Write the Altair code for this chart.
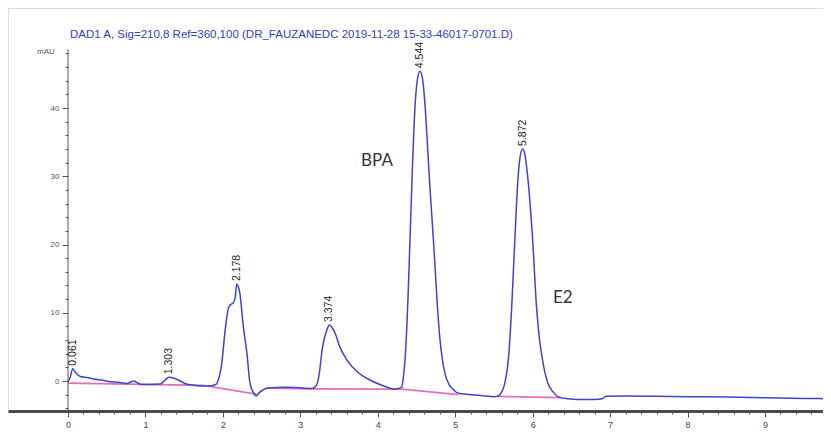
import altair as alt
import pandas as pd

# ---------------- data ----------------
trace_t = [0.00, 0.03, 0.061, 0.10, 0.16, 0.25, 0.33, 0.45, 0.55, 0.65, 0.76, 0.80, 0.85, 0.90, 0.95,
           1.05, 1.19, 1.25, 1.303, 1.37, 1.45, 1.53, 1.62, 1.75, 1.85, 1.91, 1.95, 1.98, 2.03, 2.07,
           2.10, 2.13, 2.16, 2.178, 2.20, 2.22, 2.26, 2.31, 2.35, 2.39, 2.43, 2.47, 2.57, 2.70, 2.82,
           3.00, 3.15, 3.21, 3.25, 3.28, 3.34, 3.374, 3.40, 3.45, 3.51, 3.60, 3.73, 3.90, 4.07, 4.22,
           4.31, 4.33, 4.36, 4.39, 4.42, 4.45, 4.48, 4.51, 4.544, 4.575, 4.61, 4.64, 4.67, 4.72, 4.77,
           4.80, 4.83, 4.87, 4.92, 4.98, 5.04, 5.20, 5.35, 5.50, 5.56, 5.60, 5.64, 5.69, 5.73, 5.77,
           5.81, 5.84, 5.872, 5.90, 5.94, 6.00, 6.05, 6.09, 6.12, 6.16, 6.20, 6.27, 6.35, 6.45, 6.60,
           6.80, 6.90, 6.95, 7.20, 7.60, 8.00, 8.50, 9.00, 9.50, 9.85]
trace_v = [-0.1, 0.6, 1.8, 1.2, 0.65, 0.5, 0.3, 0.1, -0.1, -0.2, -0.35, -0.2, 0.0, -0.3, -0.5,
           -0.5, -0.45, 0.1, 0.55, 0.4, 0.0, -0.45, -0.6, -0.75, -0.7, -0.5, 0.5, 2.1, 7.5, 10.6,
           11.2, 11.4, 12.3, 14.2, 13.8, 12.8, 8.4, 4.1, -0.3, -1.6, -2.2, -1.7, -1.05, -0.95, -0.93,
           -1.0, -1.1, -0.6, 1.5, 4.5, 7.4, 8.2, 8.0, 7.0, 5.0, 3.1, 1.4, 0.15, -0.7, -1.2,
           -0.9, 0.5, 4.5, 12.0, 22.0, 32.0, 40.0, 44.0, 45.4, 44.5, 40.5, 35.0, 29.0, 20.5, 11.0,
           6.5, 3.5, 1.0, -0.5, -1.3, -1.8, -2.0, -2.15, -2.3, -2.2, -1.6, -0.35, 3.6, 10.9, 20.7,
           29.5, 33.0, 34.0, 33.2, 29.5, 20.7, 10.9, 6.0, 3.6, 1.2, -0.4, -1.7, -2.4, -2.6, -2.7,
           -2.7, -2.6, -2.25, -2.2, -2.25, -2.3, -2.35, -2.45, -2.55, -2.6]

base_seg = ["a", "a", "a", "b", "b", "c", "c", "c", "d", "d"]
base_t = [0.00, 1.75, 2.44, 2.57, 3.17, 3.17, 4.31, 5.04, 5.55, 6.37]
base_v = [-0.3, -0.65, -1.95, -1.05, -1.15, -1.15, -1.2, -2.0, -2.25, -2.45]

peak_t = [0.061, 1.303, 2.178, 3.374, 4.544, 5.872]
peak_v = [1.8, 0.55, 14.2, 8.2, 45.4, 34.0]
peak_lbl = ["0.061", "1.303", "2.178", "3.374", "4.544", "5.872"]

ann_t = [3.99, 6.39]
ann_v = [32.2, 12.2]
ann_txt = ["BPA", "E2"]

title_txt = "DAD1 A, Sig=210,8 Ref=360,100 (DR_FAUZANEDC 2019-11-28 15-33-46017-0701.D)"

x_major = [0, 1, 2, 3, 4, 5, 6, 7, 8, 9]
x_minor = [0.2, 0.4, 0.6, 0.8, 1.2, 1.4, 1.6, 1.8, 2.2, 2.4, 2.6, 2.8, 3.2, 3.4, 3.6, 3.8,
           4.2, 4.4, 4.6, 4.8, 5.2, 5.4, 5.6, 5.8, 6.2, 6.4, 6.6, 6.8, 7.2, 7.4, 7.6, 7.8,
           8.2, 8.4, 8.6, 8.8, 9.2, 9.4, 9.6]
y_major = [0, 10, 20, 30, 40]
y_minor = [-4, -2, 2, 4, 6, 8, 12, 14, 16, 18, 22, 24, 26, 28, 32, 34, 36, 38, 42, 44, 46, 48]

# ---------------- layout ----------------
PX_PER_MIN = 77.44
PX_PER_MAU = 6.825
W, H = 815, 403
XMIN = -60 / PX_PER_MIN
XMAX = XMIN + W / PX_PER_MIN
YMAX = 373 / PX_PER_MAU
YMIN = YMAX - H / PX_PER_MAU
Y_OFF = -W * (0 - XMIN) / (XMAX - XMIN)

xs = alt.Scale(domain=[XMIN, XMAX], nice=False, zero=False)
ys = alt.Scale(domain=[YMIN, YMAX], nice=False, zero=False)

trace_df = pd.DataFrame({"t": trace_t, "v": trace_v})
base_df = pd.DataFrame({"seg": base_seg, "t": base_t, "v": base_v})
peak_df = pd.DataFrame({"t": peak_t, "v": peak_v, "lbl": peak_lbl})
ann_df = pd.DataFrame({"t": ann_t, "v": ann_v, "txt": ann_txt})

FONT = "Liberation Sans"

x_axis_major = alt.Axis(values=x_major, tickSize=6, labelFontSize=9, labelColor="#444",
                        labelFont=FONT, labelPadding=3, domain=True, domainWidth=3,
                        domainColor="#4a4a4a", tickColor="#555", grid=False, title=None,
                        orient="bottom", format="d")
x_axis_minor = alt.Axis(values=x_minor, tickSize=3, labels=False, domain=False,
                        tickColor="#555", grid=False, title=None, orient="bottom")
y_axis_major = alt.Axis(values=y_major, tickSize=6, labelFontSize=8, labelColor="#555",
                        labelFont=FONT, labelPadding=3, domain=False, tickColor="#555",
                        grid=False, title=None, orient="left", offset=Y_OFF, format="d")
y_axis_minor = alt.Axis(values=y_minor, tickSize=3, labels=False, domain=False,
                        tickColor="#555", grid=False, title=None, orient="left", offset=Y_OFF)

baseline = alt.Chart(base_df).mark_line(color="#e36fb4", strokeWidth=1.8).encode(
    x=alt.X("t:Q", scale=xs, axis=x_axis_minor),
    y=alt.Y("v:Q", scale=ys, axis=y_axis_minor),
    detail="seg:N",
)

trace = alt.Chart(trace_df).mark_line(color="#4045c4", strokeWidth=1.5, interpolate="monotone").encode(
    x=alt.X("t:Q", scale=xs, axis=x_axis_major),
    y=alt.Y("v:Q", scale=ys, axis=y_axis_major),
    order="t:Q",
)

yrule = alt.Chart(pd.DataFrame({"t": [0], "v1": [YMIN], "v2": [48.6]})).mark_rule(
    color="#555", strokeWidth=1).encode(
    x=alt.X("t:Q", scale=xs, axis=None),
    y=alt.Y("v1:Q", scale=ys, axis=None),
    y2="v2:Q",
)

peaks = alt.Chart(peak_df).mark_text(angle=270, align="left", baseline="middle", dx=3,
                                     fontSize=10.5, font=FONT, color="#222").encode(
    x=alt.X("t:Q", scale=xs, axis=None),
    y=alt.Y("v:Q", scale=ys, axis=None),
    text="lbl:N",
)

anns = alt.Chart(ann_df).mark_text(fontSize=17, font="Lato", color="#333",
                                   align="center", baseline="middle").encode(
    x=alt.X("t:Q", scale=xs, axis=None),
    y=alt.Y("v:Q", scale=ys, axis=None),
    text="txt:N",
)

misc_df = pd.DataFrame({
    "t": [0.026, -0.17],
    "v": [50.7, 48.2],
    "txt": [title_txt, "mAU"],
    "kind": ["title", "unit"],
})

title = alt.Chart(misc_df).transform_filter("datum.kind == 'title'").mark_text(
    align="left", baseline="middle", fontSize=11.5, font=FONT, color="#3040c0").encode(
    x=alt.X("t:Q", scale=xs, axis=None),
    y=alt.Y("v:Q", scale=ys, axis=None),
    text="txt:N",
)
units = alt.Chart(misc_df).transform_filter("datum.kind == 'unit'").mark_text(
    align="right", baseline="middle", fontSize=8, font=FONT, color="#555").encode(
    x=alt.X("t:Q", scale=xs, axis=None),
    y=alt.Y("v:Q", scale=ys, axis=None),
    text="txt:N",
)

chart = alt.layer(baseline, trace, yrule, peaks, anns, title, units).resolve_axis(
    x="independent", y="independent"
).properties(
    width=W, height=H,
    autosize=alt.AutoSizeParams(type="none"),
    padding={"left": 0, "top": 0, "right": 0, "bottom": 21},
).configure_view(
    stroke="#777", strokeWidth=1.5
).configure(background="white")

chart.save("out.html", embed_options={"renderer": "svg", "actions": False})
